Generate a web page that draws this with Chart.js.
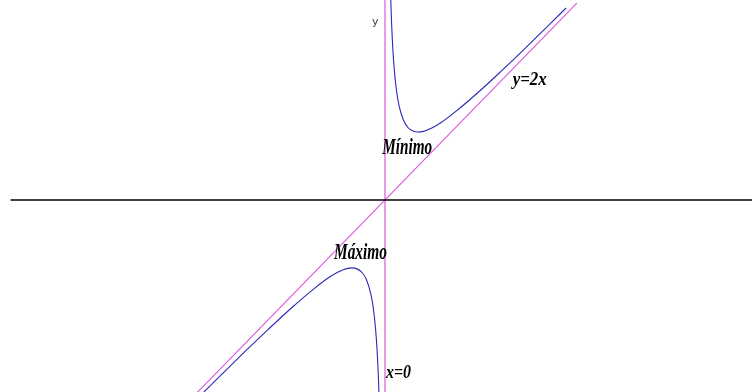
<!DOCTYPE html>
<html>
<head>
<meta charset="utf-8">
<script src="https://cdn.jsdelivr.net/npm/chart.js@4.4.0/dist/chart.umd.min.js"></script>
<style>
  html, body { margin: 0; padding: 0; background: #ffffff; }
  #wrap { width: 752px; height: 392px; position: relative; }
</style>
</head>
<body>
<div id="wrap"><canvas id="c" width="752" height="392"></canvas></div>
<script>
// Values (graph of a function with two asymptotes)
const rightBranchX = [0.12, 0.14, 0.17, 0.2, 0.25, 0.3, 0.4, 0.5, 0.6, 0.7, 0.8, 1.0, 1.2, 1.5, 2.0, 2.5, 3.0, 3.5, 3.87];
const rightBranchY = [8.57, 7.42, 6.22, 5.4, 4.5, 3.93, 3.3, 3.0, 2.87, 2.83, 2.85, 3.0, 3.23, 3.67, 4.5, 5.4, 6.33, 7.29, 8.0];
const leftBranchX  = [-3.87, -3.5, -3.0, -2.5, -2.0, -1.5, -1.2, -1.0, -0.8, -0.7, -0.6, -0.5, -0.4, -0.3, -0.25, -0.2, -0.17, -0.14, -0.12];
const leftBranchY  = [-8.0, -7.29, -6.33, -5.4, -4.5, -3.67, -3.23, -3.0, -2.85, -2.83, -2.87, -3.0, -3.3, -3.93, -4.5, -5.4, -6.22, -7.42, -8.57];
const obliqueX = [-4.1, 4.1];          // asymptote y = 2x
const obliqueY = [-8.2, 8.2];
const verticalX = [0, 0];              // asymptote x = 0
const verticalY = [-8.5, 8.6];
const axisX = [-8.0, 7.9];             // horizontal axis
const axisY = [0, 0];
const labelTexts = ["Mínimo", "Máximo", "y=2x", "x=0"];
const labelX = [-0.06, -1.09, 2.73, 0.02];
const labelY = [1.9, -2.45, 4.8, -7.42];
const axisNameText = "y";
const axisNameX = -0.28;
const axisNameY = 7.3;

const pts = (xs, ys) => xs.map((x, i) => ({ x: x, y: ys[i] }));

const labelPlugin = {
  id: 'labels',
  afterDatasetsDraw(chart) {
    const ctx = chart.ctx;
    const xs = chart.scales.x, ys = chart.scales.y;
    const targetW = [50, 53, 34, 25];
    const sizes = [23, 23, 19, 19];
    ctx.save();
    ctx.fillStyle = '#000000';
    ctx.textBaseline = 'alphabetic';
    ctx.textAlign = 'left';
    labelTexts.forEach((t, i) => {
      ctx.font = 'italic bold ' + sizes[i] + 'px "Liberation Serif", "Times New Roman", serif';
      const w = ctx.measureText(t).width;
      const sx = targetW[i] / w;
      ctx.save();
      ctx.translate(xs.getPixelForValue(labelX[i]), ys.getPixelForValue(labelY[i]));
      ctx.scale(sx, 1);
      ctx.fillText(t, 0, 0);
      ctx.restore();
    });
    ctx.font = '11px "DejaVu Sans", Arial, sans-serif';
    ctx.fillStyle = '#444444';
    ctx.fillText(axisNameText, xs.getPixelForValue(axisNameX), ys.getPixelForValue(axisNameY));
    ctx.restore();
  }
};

new Chart(document.getElementById('c'), {
  type: 'scatter',
  data: {
    datasets: [
      { data: pts(axisX, axisY), showLine: true, borderColor: '#000000', borderWidth: 1.6, pointRadius: 0 },
      { data: pts(verticalX, verticalY), showLine: true, borderColor: '#dd66dd', borderWidth: 1.3, pointRadius: 0 },
      { data: pts(obliqueX, obliqueY), showLine: true, borderColor: '#dd55dd', borderWidth: 1.1, pointRadius: 0 },
      { data: pts(rightBranchX, rightBranchY), showLine: true, borderColor: '#2a2ab8', borderWidth: 1.1, pointRadius: 0, cubicInterpolationMode: 'monotone' },
      { data: pts(leftBranchX, leftBranchY), showLine: true, borderColor: '#2a2ab8', borderWidth: 1.1, pointRadius: 0, cubicInterpolationMode: 'monotone' }
    ]
  },
  options: {
    responsive: false,
    animation: false,
    layout: { padding: 0 },
    plugins: { legend: { display: false }, tooltip: { enabled: false } },
    scales: {
      x: { type: 'linear', display: false, min: -8.226, max: 7.842 },
      y: { type: 'linear', display: false, min: -8.0, max: 8.333 }
    }
  },
  plugins: [labelPlugin]
});
</script>
</body>
</html>
